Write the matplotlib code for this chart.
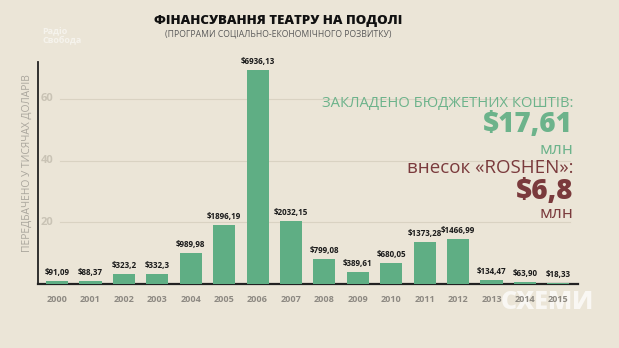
import numpy as np
from matplotlib import pyplot as plt

years = ['2000', '2001', '2002', '2003', '2004', '2005', '2006', '2007',
         '2008', '2009', '2010', '2011', '2012', '2013', '2014', '2015']
amounts = [91.09, 88.37, 323.2, 332.3, 989.98, 1896.19, 6936.13, 2032.15,
           799.08, 389.61, 680.05, 1373.28, 1466.99, 134.47, 63.90, 18.33]
amount_labels = ['$91,09', '$88,37', '$323,2', '$332,3', '$989,98', '$1896,19',
                 '$6936,13', '$2032,15', '$799,08', '$389,61', '$680,05',
                 '$1373,28', '$1466,99', '$134,47', '$63,90', '$18,33']
y_ticks = [20, 40, 60]

bg = '#ebe5d7'
green = '#5fae84'
green_text = '#6cb38b'
red_text = '#7a3a3c'
gray = '#a9a59c'
fam = ['Open Sans', 'DejaVu Sans']
plt.rcParams['font.family'] = fam

fig = plt.figure(figsize=(6.19, 3.48), dpi=100, facecolor=bg)
ax = fig.add_axes([0.0614, 0.184, 0.873, 0.638])
ax.patch.set_visible(False)

x = np.arange(len(years))
heights = np.array(amounts) / 100
ax.bar(x, heights, width=0.66, color=green, zorder=3)

for xi, h, lab in zip(x, heights, amount_labels):
    ax.text(xi, h + 1.3, lab, ha='center', va='bottom', fontsize=5.8,
            fontweight='bold', color='#1a1a1a', zorder=4)

for t in y_ticks:
    ax.axhline(t, xmin=0.04, xmax=0.985, color='#d9d2c2', lw=0.8, zorder=1)
    ax.text(-0.48, t, str(t), ha='left', va='center', fontsize=8,
            fontweight='bold', color='#c9c3b5')

ax.set_xlim(-0.57, 15.6)
ax.set_ylim(0, 72)
ax.set_xticks(x)
ax.set_xticklabels(years, fontsize=6.5, fontweight='bold', color='#8d8982')
ax.tick_params(axis='x', length=0, pad=8)
ax.set_yticks([])
for side in ['top', 'right']:
    ax.spines[side].set_visible(False)
ax.spines['left'].set_color('#222222')
ax.spines['bottom'].set_color('#222222')
ax.spines['left'].set_linewidth(1.3)
ax.spines['bottom'].set_linewidth(1.6)

fig.text(0.044, 0.53, 'ПЕРЕДБАЧЕНО У ТИСЯЧАХ ДОЛАРІВ', rotation=90,
         ha='center', va='center', fontsize=7.4, color=gray)

fig.text(0.45, 0.94, 'ФІНАНСУВАННЯ ТЕАТРУ НА ПОДОЛІ', ha='center', va='center',
         fontsize=9.5, fontweight='heavy', color='#111111')
fig.text(0.45, 0.902, '(ПРОГРАМИ СОЦІАЛЬНО-ЕКОНОМІЧНОГО РОЗВИТКУ)', ha='center',
         va='center', fontsize=6.2, color='#5a5a5a')

rx = 0.926
fig.text(rx, 0.704, 'ЗАКЛАДЕНО БЮДЖЕТНИХ КОШТІВ:', ha='right', va='center',
         fontsize=10.6, color=green_text)
fig.text(rx, 0.642, '$17,61', ha='right', va='center', fontsize=20,
         fontweight='heavy', color=green_text)
fig.text(rx, 0.569, 'млн', ha='right', va='center', fontsize=12.5, color=green_text)
fig.text(rx, 0.517, 'внесок «ROSHEN»:', ha='right', va='center', fontsize=13.5,
         color=red_text)
fig.text(rx, 0.450, '$6,8', ha='right', va='center', fontsize=20,
         fontweight='heavy', color=red_text)
fig.text(rx, 0.386, 'млн', ha='right', va='center', fontsize=12.5, color=red_text)

# watermarks, under the axes so the tick labels stay on top
fig.text(0.068, 0.895, 'Радіо\nСвобода', ha='left', va='center', fontsize=6.5,
         fontweight='bold', color='white', alpha=0.55, linespacing=1.0, zorder=-1)
fig.text(0.884, 0.13, 'СХЕМИ', ha='center', va='center', fontsize=18,
         fontweight='heavy', color='white', alpha=0.7, zorder=-1)

fig.savefig('out.png', dpi=100, facecolor=bg)
